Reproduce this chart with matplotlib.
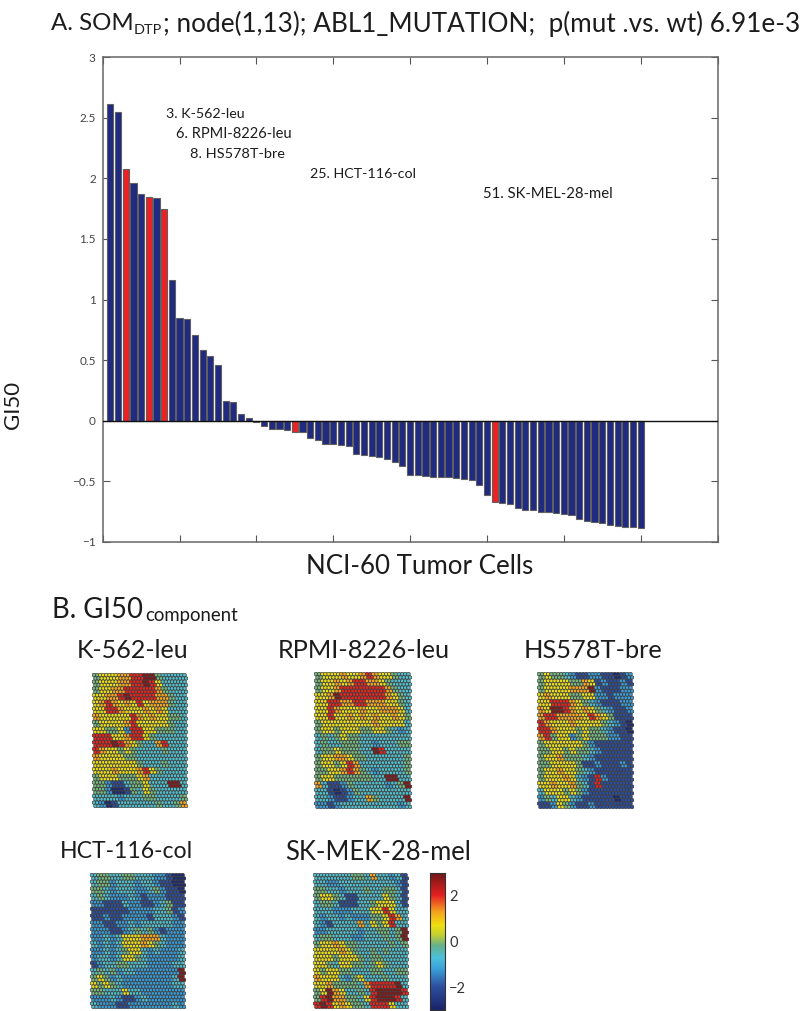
import numpy as np
import matplotlib
matplotlib.use("Agg")
import matplotlib.pyplot as plt
from matplotlib.colors import LinearSegmentedColormap

W, H = 800, 1011
plt.rcParams['font.family'] = ['Lato', 'DejaVu Sans']

gi50 = [2.61, 2.55, 2.08, 1.96, 1.87, 1.845, 1.84, 1.75, 1.16, 0.85,
        0.84, 0.71, 0.58, 0.53, 0.46, 0.165, 0.155, 0.055, 0.02, -0.01,
        -0.04, -0.065, -0.07, -0.075, -0.09, -0.095, -0.14, -0.155, -0.19, -0.19,
        -0.20, -0.21, -0.275, -0.28, -0.29, -0.30, -0.317, -0.34, -0.37, -0.445,
        -0.45, -0.455, -0.463, -0.463, -0.466, -0.47, -0.477, -0.488, -0.53, -0.61,
        -0.667, -0.675, -0.686, -0.72, -0.735, -0.74, -0.75, -0.752, -0.763, -0.766,
        -0.777, -0.807, -0.824, -0.837, -0.846, -0.857, -0.868, -0.879, -0.88, -0.884]
mutant_ranks = [3, 6, 8, 25, 51]
yticks = [-1, -0.5, 0, 0.5, 1, 1.5, 2, 2.5, 3]
ylabels = ['\u22121', '\u22120.5', '0', '0.5', '1', '1.5', '2', '2.5', '3']
xticks = [0, 10, 20, 30, 40, 50, 60, 70, 80]
annotations = ['3. K-562-leu', '6. RPMI-8226-leu', '8. HS578T-bre', '25. HCT-116-col', '51. SK-MEL-28-mel']
panel_names = ['K-562-leu', 'RPMI-8226-leu', 'HS578T-bre', 'HCT-116-col', 'SK-MEK-28-mel']

level_values = dict(a=-2.8, b=-2.0, c=-1.25, d=-0.6, e=-0.1, f=0.65, g=1.25, h=2.0, i=2.8)

k562 = ["efffgghhiiedddd", "efffgghhihfdddd", "effgghhhhhgeddd", "ffgghihhhhggedd", "fghgfgfhfgggedd",
        "ffhhgfffgfgfddd", "gfffffhgfgffeed", "effffghfffffedd", "ffeefchhffeeedd", "hhhffghhfeddddd",
        "hhhihgfeddghddd", "hgffefeddddeddd", "gffffeedddddddd", "fffffffedddeddd", "fffgfffghfedddd",
        "efffeeefgdddddd", "eecbbdeefdddiid", "eecaabedfeddddd", "ddddcdddeedddde", "dcabddddddeddeg"]
rpmi = ["efffgffghgffedd", "effgfghhggfeddd", "effghhhhhhhgedd", "ffgihhhhhhhgfed", "ffhhgghhgggffed",
        "ffhgfffgffgggfd", "ffhffgfgfgffgfe", "effffffffgffffd", "effefffeeffedcd", "dedefeedddddddd",
        "deddeeeddcdddee", "deefeeeddihdddd", "effggfeedddddde", "effefhgddddddde", "eeffghgedcdddde",
        "effeeeeeeddiidd", "gdbbcedddddcdei", "ddbabcedddddddd", "ddcbbcddgeddddi", "ccbcdddddddddcd"]
hs578t = ["efeedcbbccbbabc", "effffeegfbcbbcb", "effffgggicbbbcc", "fgfffeeffccbccc", "ffhhhgfedcbbbcc",
          "gfiihgfgfedcbbc", "ghhggggfhgfebbb", "hgfffgffffedcba", "hhgfffefeedcbba", "gheffcefeeeccbb",
          "effffffecbbbbbb", "eeffefeedcbbbbb", "effgeeedcbbbbbb", "eeffffebbcbbbcb", "effgffedcbbbbbb",
          "efffgfdcbhcbbbb", "ffgffgedbhbbbbb", "dfffefecbbbbbbb", "cedffdcbbbbbabb", "bbcfecbbcbbbbbb"]
hct116 = ["deeddeedddccbaa", "deecdddcddcbbaa", "eedcdddccdecbba", "dedcccdcbcccbbb", "ccbbbdccbbcdebb",
          "bbbbbbccccddebc", "bbcbbccccbdddcb", "ccbbccdcdddddcc", "cccbbcdedecbccc", "ccdcdfffgggdccc",
          "dcdcdfffgfedccc", "ccdcdeffdcdcccd", "cddcdffedcccccd", "bcddeedddccccdd", "dedecddccccccci",
          "efecdccccccccdi", "fefedccccccccdd", "eedddfddccccccc", "cccdcbbcdcccccc", "dcccbbcccccccdc"]
skmek = ["ddddddeedgddcdb", "ddccdddddddddcb", "eeddcdddeddeedb", "effedbbddddfedb", "deedbbbddefffdb",
         "dddcccdddffhfdd", "dcddcdccceefhgd", "dcbddddgdfefhdd", "ccdddddcddeedei", "deedddccdddedei",
         "effgfeedddddede", "ffffgfeddededdd", "fffefffedeedddd", "ffedffeedefeddd", "feffeedddeeddee",
         "gfffdcefdddeddd", "ffgeeeedghhhhid", "efigfddedhiiiih", "ehiggeedfhiiihd", "hihfgfeedhhhfdd"]
panels = [k562, rpmi, hs578t, hct116, skmek]

fig = plt.figure(figsize=(W / 100, H / 100), dpi=100, facecolor='white')
renderer = fig.canvas.get_renderer()


def px_axes(x0, y0, x1, y1):
    return fig.add_axes([x0 / W, 1 - y1 / H, (x1 - x0) / W, (y1 - y0) / H])


def fit_text(x0, x1, y, s, size=12.0, **kw):
    """Text running from pixel x0 to x1, centred on pixel row y."""
    t = fig.text(x0 / W, 1 - y / H, s, fontsize=size, ha='left', va='center',
                 color=kw.pop('color', '#1c1c1c'), **kw)
    width = t.get_window_extent(renderer).width
    t.set_fontsize(size * (x1 - x0) / width)
    return t


ax = px_axes(102.7, 57, 717.5, 542)
ranks = np.arange(1, len(gi50) + 1)
colors = ['#ee2024' if r in mutant_ranks else '#1f2a80' for r in ranks]
ax.bar(ranks, gi50, width=0.8, color=colors, edgecolor='#606060', linewidth=0.8, zorder=2)
ax.axhline(0, color='#111111', lw=1.0, zorder=3)
ax.set_xlim(0, 80)
ax.set_ylim(-1, 3)
ax.set_xticks(xticks)
ax.set_xticklabels([])
ax.set_yticks(yticks)
ax.set_yticklabels(ylabels, fontsize=8.5, color='#444444')
ax.tick_params(direction='in', top=True, right=True, length=5, width=0.8, color='#555555', pad=5)
for s in ax.spines.values():
    s.set_color('#666666')
    s.set_linewidth(1.1)

# headings
fit_text(51, 133, 24, 'A. SOM')
fit_text(134, 162, 30, 'DTP', size=10)
fit_text(163, 797, 24, '; node(1,13); ABL1_MUTATION;  p(mut .vs. wt) 6.91e-3')
t = fig.text(13 / W, 1 - 405 / H, 'GI50', fontsize=16, rotation=90, ha='center', va='center', color='#1c1c1c')
fit_text(306, 532, 566, 'NCI-60 Tumor Cells')
fit_text(52, 143, 610, 'B. GI50')
fit_text(145, 238, 616, 'component')

ann_pos = [(166, 245, 114), (176, 291, 134), (190, 284, 154), (310, 416, 174), (483, 613, 194)]
for (x0, x1, y), s in zip(ann_pos, annotations):
    fit_text(x0, x1, y, s)

# SOM panels
cmap = LinearSegmentedColormap.from_list('som', [
    (0.00, '#1a2468'), (0.17, '#2d4f9e'), (0.30, '#3aa0d8'), (0.38, '#4cc0dc'), (0.47, '#66b28c'),
    (0.55, '#c4d030'), (0.62, '#f0e010'), (0.72, '#f5a020'), (0.84, '#e42020'), (1.00, '#701818')])

boxes = [(92, 673, 188, 808), (314, 672, 412, 809), (537, 672, 634, 809),
         (90, 873, 186, 1009), (313, 873, 409, 1009)]
title_pos = [(76.5, 188, 651), (278, 450, 651), (524, 662, 651), (60, 193, 852), (285, 470, 852)]
for grid, box, name, tp in zip(panels, boxes, panel_names, title_pos):
    vals = np.array([[level_values[c] for c in row] for row in grid])
    fine = vals.repeat(2, axis=0).repeat(2, axis=1)
    rows, cols = np.indices(fine.shape)
    a = px_axes(*box)
    a.scatter(cols + 0.5 * (rows % 2), rows, c=fine.ravel(), cmap=cmap, vmin=-3, vmax=3, marker='h',
              s=8, edgecolors='#333333', linewidths=0.45)
    a.set_xlim(-0.6, fine.shape[1] + 0.1)
    a.set_ylim(fine.shape[0] - 0.4, -0.6)
    a.axis('off')
    fit_text(tp[0], tp[1], tp[2], name)

# colour bar
cax = px_axes(430, 873, 445, 1010)
cb_levels = np.linspace(3, -3, 256).reshape(-1, 1)
cax.imshow(cb_levels, aspect='auto', cmap=cmap, vmin=-3, vmax=3, extent=[0, 1, -3, 3])
cax.set_xticks([])
cax.yaxis.tick_right()
cax.set_yticks([-2, 0, 2])
cax.set_yticklabels(['\u22122', '0', '2'], fontsize=10.5, color='#333333')
cax.tick_params(length=0, pad=3)
for s in cax.spines.values():
    s.set_color('#333333')
    s.set_linewidth(0.8)

fig.savefig('out.png', dpi=100)
